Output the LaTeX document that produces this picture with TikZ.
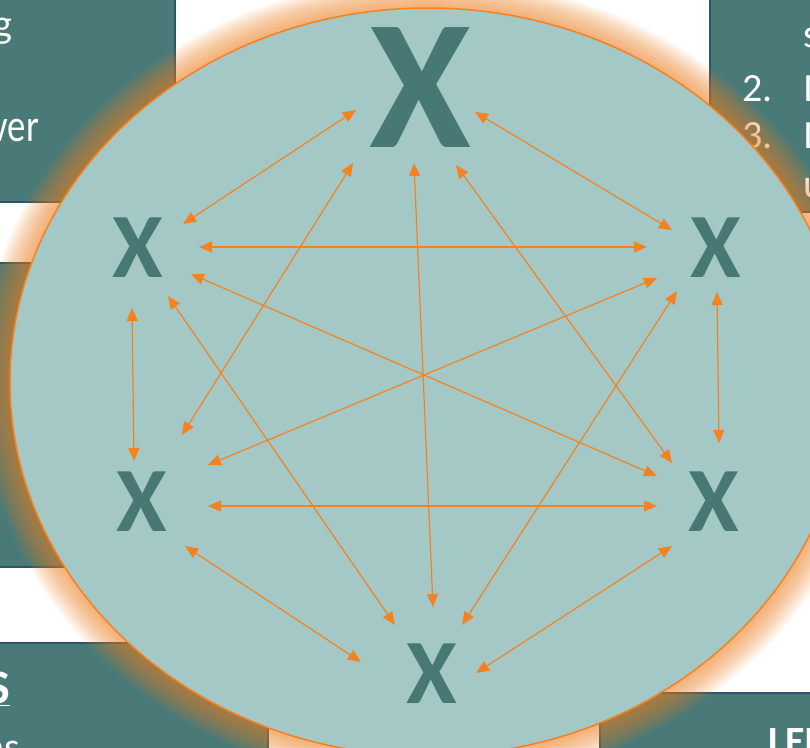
\documentclass[tikz,border=0pt]{standalone}
\usepackage{fontspec}
\setmainfont{Carlito}
\usetikzlibrary{arrows.meta,calc,shapes.geometric}
\definecolor{boxteal}{HTML}{4A7A77}
\definecolor{boxedge}{HTML}{2A5568}
\definecolor{xteal}{HTML}{477874}
\definecolor{circfill}{HTML}{A3C8C5}
\definecolor{orng}{HTML}{F58220}
\tikzset{
  panel/.style={fill=boxteal, draw=boxedge, line width=1.2pt},
  ptext/.style={text=white, inner sep=0pt, font=\fontsize{40}{48}\selectfont},
  bigx/.style={text=xteal, inner sep=0pt, font=\bfseries\fontsize{185}{190}\selectfont},
  smallx/.style={text=xteal, inner sep=0pt, font=\bfseries\fontsize{92}{96}\selectfont},
  arr/.style={draw=orng, line width=1.2pt, {Triangle[length=13pt,width=11pt]}-{Triangle[length=13pt,width=11pt]}},
  glow/.style={fill=orng, opacity=0.055}
}
\begin{document}
\begin{tikzpicture}[x=1pt,y=-1pt]
\useasboundingbox (0,0) rectangle (810,747);
\clip (0,0) rectangle (810,747);
\fill[white] (0,0) rectangle (810,747);
% background panels
\draw[panel] (-10,-10) rectangle (175,202);
\draw[panel] (-10,263) rectangle (220,567);
\draw[panel] (-10,643) rectangle (268,760);
\draw[panel] (710,-10) rectangle (820,212);
\draw[panel] (600,693) rectangle (820,760);
% panel text fragments
\node[ptext, anchor=base east] (tl1) at (13,37) {g};
\node[ptext, anchor=base east, xscale=0.8, font=\fontsize{46}{54}\selectfont] (tl2) at (39,141) {ver};
\node[ptext, anchor=base west] (tr1) at (803,47) {s};
\node[ptext, anchor=base west] (tr2) at (742,101) {2.};
\node[ptext, anchor=base west] (tr2b) at (803,101) {I};
\node[ptext, anchor=base west] (tr3) at (742,148) {3.};
\node[ptext, anchor=base west] (tr3b) at (803,148) {I};
\node[ptext, anchor=base west] (tr4) at (803,197) {u};
\node[ptext, anchor=base east, font=\bfseries\fontsize{48}{56}\selectfont] (bl1) at (10,703) {\underline{S}};
\node[ptext, anchor=base east] (bl2) at (20,760) {ns};
\node[ptext, anchor=north west, font=\bfseries\fontsize{40}{48}\selectfont] (br1) at (768,728) {LEI};
% glow
\foreach \d in {30,28,...,2}{
  \fill[glow] (428,382) ellipse [x radius={418pt+\d pt}, y radius={374pt+\d pt}];
}
% main circle
\node[draw=orng, fill=circfill, line width=1.5pt, ellipse, minimum width=836pt, minimum height=748pt, inner sep=0pt] (circ) at (428,382) {};
% X nodes
\node[bigx] (top) at (420,88) {X};
\node[smallx] (lt) at (138,248) {X};
\node[smallx] (rt) at (716,248) {X};
\node[smallx] (lb) at (142,502) {X};
\node[smallx] (rb) at (714,502) {X};
\node[smallx] (bot) at (432,674) {X};
% connectors
\draw[arr] ($(top)+(-64,22)$) -- ($(lt)+(45,-24)$);
\draw[arr] ($(top)+(55,24)$) -- ($(rt)+(-44,-18)$);
\draw[arr] ($(top)+(-67,75)$) -- ($(lb)+(40,-67)$);
\draw[arr] ($(top)+(36,77)$) -- ($(rb)+(-42,-39)$);
\draw[arr] ($(top)+(-6,75)$) -- ($(bot)+(1,-67)$);
\draw[arr] ($(lt)+(61,-1)$) -- ($(rt)+(-69,-1)$);
\draw[arr] ($(lt)+(-6,60)$) -- ($(lb)+(-8,-41)$);
\draw[arr] ($(lt)+(53,26)$) -- ($(rb)+(-57,-26)$);
\draw[arr] ($(lt)+(30,48)$) -- ($(bot)+(-37,-49)$);
\draw[arr] ($(rt)+(-59,30)$) -- ($(lb)+(66,-37)$);
\draw[arr] ($(rt)+(1,44)$) -- ($(rb)+(5,-59)$);
\draw[arr] ($(rt)+(-39,43)$) -- ($(bot)+(30,-49)$);
\draw[arr] ($(lb)+(66,4)$) -- ($(rb)+(-57,4)$);
\draw[arr] ($(lb)+(43,44)$) -- ($(bot)+(-71,-12)$);
\draw[arr] ($(rb)+(-42,44)$) -- ($(bot)+(44,-1)$);
\end{tikzpicture}
\end{document}
